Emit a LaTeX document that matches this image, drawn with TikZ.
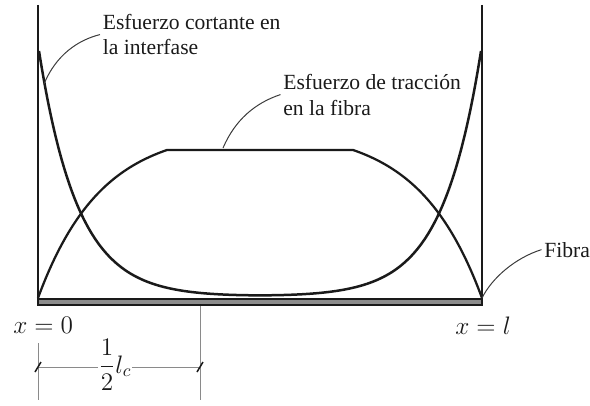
\documentclass[tikz,border=0pt]{standalone}
\usepackage{fontspec}
\setmainfont{Liberation Serif}
\usepackage{amsmath}
\usetikzlibrary{positioning}
\definecolor{InkBlack}{HTML}{1A1A1A}
\definecolor{FiberGray}{HTML}{8C8C8C}
\definecolor{DimGray}{HTML}{8A8A8A}
\tikzset{
  wall/.style={line width=0.045cm,draw=InkBlack},
  fiberbar/.style={draw=InkBlack,fill=FiberGray,line width=0.03cm},
  shearcurve/.style={line width=0.05cm,draw=InkBlack,line join=round},
  tensioncurve/.style={line width=0.045cm,draw=InkBlack,line join=round},
  leader/.style={line width=0.02cm,draw=InkBlack!85},
  dimline/.style={line width=0.015cm,draw=DimGray},
  dimtick/.style={line width=0.03cm,draw=InkBlack},
  lbl/.style={font=\fontsize{12.3}{14.7}\selectfont,align=left,
    inner sep=0.05cm,text=InkBlack},
  mathlbl/.style={font=\fontsize{14}{16}\selectfont,inner sep=0pt,text=InkBlack},
}
\begin{document}
\begin{tikzpicture}[x=0.02cm,y=-0.02cm]
  \useasboundingbox (0,0) rectangle (590,405);
  \draw[wall] (38,5) -- (38,299);
  \draw[wall] (482,5) -- (482,299);
  \draw[fiberbar] (38,299) rectangle (482,305);
  \draw[shearcurve] plot[domain=39:481,samples=160,smooth]
    (\x,{297-246*(exp(-0.0257*(\x-39))+exp(-0.0257*(481-\x)))});
  \draw[tensioncurve] plot[domain=38:167,samples=60,smooth]
    (\x,{298-148*(1-exp(-0.016*(\x-38)))/0.8731})
    -- plot[domain=353:482,samples=60,smooth]
    (\x,{298-148*(1-exp(-0.016*(482-\x)))/0.8731});
  \node[lbl,anchor=base west] (lblShear) at (100,55) {Esfuerzo cortante en\\la interfase};
  \node[lbl,anchor=base west] (lblTension) at (280.5,115) {Esfuerzo de tracción\\en la fibra};
  \node[lbl,anchor=base west] (lblFiber) at (541.5,257) {Fibra};
  \node[mathlbl,anchor=base west] (lblOrigin) at (13,333) {$x=0$};
  \node[mathlbl,anchor=base west] (lblEnd) at (455,334) {$x=l$};
  \coordinate (shearPt) at (44,84);
  \coordinate (tensionPt) at (223,148);
  \coordinate (fiberPt) at (482,298);
  \draw[leader] (shearPt) .. controls (56,55) and (78,40) .. (lblShear.west);
  \draw[leader] (tensionPt) .. controls (235,120) and (255,103) .. (lblTension.west);
  \draw[leader] (fiberPt) .. controls (492,278) and (515,258) .. (lblFiber.west);
  \coordinate (dimL) at (38,367);
  \coordinate (dimR) at (200,367);
  \draw[dimline] (38,343) -- (38,400);
  \draw[dimline] (200,306) -- (200,400);
  \draw[dimline] (dimL) -- (dimR);
  \draw[dimtick] ([shift={(-3,5)}]dimL) -- ([shift={(3,-5)}]dimL);
  \draw[dimtick] ([shift={(-3,5)}]dimR) -- ([shift={(3,-5)}]dimR);
  \node[mathlbl,anchor=base,fill=white,inner sep=0.5pt] (lblHalf) at (115,373) {$\displaystyle\frac{1}{2}l_c$};
\end{tikzpicture}
\end{document}
